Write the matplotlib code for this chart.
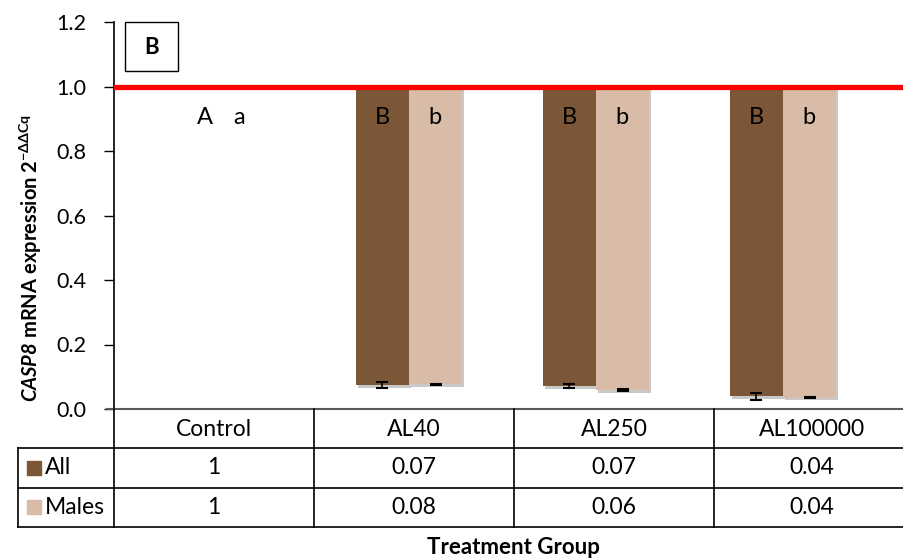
import matplotlib.pyplot as plt
import matplotlib.patheffects as pe
from matplotlib.patches import Rectangle
import numpy as np

plt.rcParams['font.family'] = ['Lato', 'DejaVu Sans']
plt.rcParams['mathtext.fontset'] = 'custom'
plt.rcParams['mathtext.rm'] = 'Lato'
plt.rcParams['mathtext.bf'] = 'Lato:bold'
plt.rcParams['mathtext.bfit'] = 'Lato:italic:bold'

# Data
groups = ['Control', 'AL40', 'AL250', 'AL100000']
all_vals = [1.0, 0.075, 0.071, 0.040]
male_vals = [1.0, 0.076, 0.059, 0.035]
all_err = [0.0, 0.010, 0.005, 0.011]
male_err = [0.0, 0.002, 0.002, 0.002]
all_labels = ['1', '0.07', '0.07', '0.04']
male_labels = ['1', '0.08', '0.06', '0.04']
all_letters = ['A', 'B', 'B', 'B']
male_letters = ['a', 'b', 'b', 'b']

dark = '#7B5737'
light = '#D8BCA8'

W, H = 904, 559
fig = plt.figure(figsize=(W / 100, H / 100), dpi=100)

# main plot area in pixels
x0, x1, ytop, ybot = 114, 904, 22, 409
ax = fig.add_axes([x0 / W, 1 - ybot / H, (x1 - x0) / W, (ybot - ytop) / H])

x = np.arange(len(groups))
bw = 0.285
shadow = [pe.SimplePatchShadow(offset=(1.5, -2), shadow_rgbFace='#888888', alpha=0.45), pe.Normal()]
for i in range(1, len(groups)):
    ax.bar(x[i] - bw / 2, 1 - all_vals[i], bottom=all_vals[i], width=bw, color=dark,
           path_effects=shadow, zorder=2)
    ax.bar(x[i] + bw / 2, 1 - male_vals[i], bottom=male_vals[i], width=bw, color=light,
           path_effects=shadow, zorder=2)
    ax.errorbar(x[i] - bw / 2, all_vals[i], yerr=all_err[i], fmt='none', ecolor='black',
                elinewidth=1.2, capsize=4, capthick=1.5, zorder=3)
    ax.errorbar(x[i] + bw / 2, male_vals[i], yerr=male_err[i], fmt='none', ecolor='black',
                elinewidth=1.2, capsize=4, capthick=1.5, zorder=3)

# significance letters
for i in range(len(groups)):
    off = 0.09 if i == 0 else 0.14
    ax.text(x[i] - off, 0.905, all_letters[i], ha='center', va='center', fontsize=17, zorder=4)
    ax.text(x[i] + off, 0.905, male_letters[i], ha='center', va='center', fontsize=17, zorder=4)

ax.axhline(1.0, color='#FF0000', lw=3.8, zorder=5)

ax.set_xlim(-0.578, 3.647)
ax.set_ylim(0, 1.2)
ax.set_yticks(np.arange(0, 1.21, 0.2))
ax.set_yticklabels([f'{v:.1f}' for v in np.arange(0, 1.21, 0.2)], fontsize=15.5)
ax.set_xticks([])
ax.tick_params(axis='y', length=7, width=1, direction='out', pad=13)
for s in ['top', 'right', 'bottom']:
    ax.spines[s].set_visible(False)
ax.spines['left'].set_color('black')
ax.spines['left'].set_linewidth(1.2)
ax.patch.set_alpha(0)

ax.set_ylabel(r'$\mathbfit{CASP8}$ mRNA expression 2$^{\mathbf{-ΔΔCq}}$', fontsize=14.5,
              fontweight='bold')
ax.yaxis.set_label_coords(-0.088, 0.39)

# overlay in pixel coordinates for the data table and panel box
ov = fig.add_axes([0, 0, 1, 1])
ov.set_xlim(0, W)
ov.set_ylim(H, 0)
ov.axis('off')

ov.add_patch(Rectangle((125, 22), 53, 49, fill=False, ec='black', lw=1))
ov.text(151.5, 47, 'B', ha='center', va='center', fontsize=16, fontweight='bold')

cols = [114, 314, 514, 714, 910]
rows = [409, 448, 488, 527]
lc = 'black'
ov.plot([107, W], [409, 409], color='#5a5a5a', lw=1.5)
for yy in rows[1:]:
    ov.plot([18, W], [yy, yy], color=lc, lw=1.2)
ov.plot([18, 18], [448, 527], color=lc, lw=1.2)
ov.plot([114, 114], [409, 527], color=lc, lw=1.2)
for cx in cols[1:-1]:
    ov.plot([cx, cx], [409, 527], color=lc, lw=1.2)

for j, g in enumerate(groups):
    cxm = (cols[j] + cols[j + 1]) / 2
    ov.text(cxm, 429, g, ha='center', va='center', fontsize=16.5)
    ov.text(cxm, 468, all_labels[j], ha='center', va='center', fontsize=16.5)
    ov.text(cxm, 508, male_labels[j], ha='center', va='center', fontsize=16.5)

ov.add_patch(Rectangle((27, 461), 14, 14, color=dark))
ov.text(45, 468, 'All', ha='left', va='center', fontsize=16.5)
ov.add_patch(Rectangle((27, 500), 14, 14, color=light))
ov.text(45, 508, 'Males', ha='left', va='center', fontsize=16.5)

ov.text(513, 547, 'Treatment Group', ha='center', va='center', fontsize=16, fontweight='bold')

fig.savefig('out.png', dpi=100)
